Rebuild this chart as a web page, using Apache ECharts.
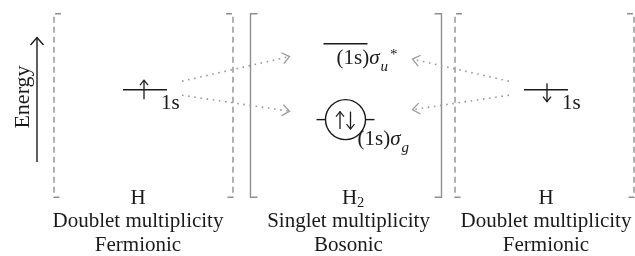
<!DOCTYPE html>
<html><head><meta charset="utf-8">
<script src="https://cdn.jsdelivr.net/npm/echarts@6/dist/echarts.min.js"></script>
<style>html,body{margin:0;padding:0;background:#fff}#c{width:635px;height:256px}</style>
</head><body><div id="c"></div>
<script>
// ---- data ----
const columnLabels = ['H', 'H', 'H'];
const columnLabelSub = ['', '2', ''];
const columnMultiplicity = ['Doublet multiplicity', 'Singlet multiplicity', 'Doublet multiplicity'];
const columnStatistics = ['Fermionic', 'Bosonic', 'Fermionic'];
const columnKind = ['atom', 'molecule', 'atom'];

const orbitalColumn = [0, 1, 1, 2];
const orbitalEnergy = [0, 1, -0.65, 0];
const orbitalName = ['1s', '(1s)', '(1s)', '1s'];
const orbitalSymbol = ['', 'σ', 'σ', ''];
const orbitalSub = ['', 'u', 'g', ''];
const orbitalSup = ['', '*', '', ''];
const orbitalElectrons = ['up', '', 'pair', 'down'];

const correlationFrom = [0, 0, 3, 3];
const correlationTo = [1, 2, 1, 2];

const axisName = 'Energy';

// ---- style / layout ----
const FONT = "'Liberation Serif', 'Times New Roman', serif";
const FS = 21;
const INK = '#1a1a1a';
const GRAY = '#8f8f8f';
const DOT = '#9a9a9a';
const TEXT_NUDGE = [-7, 3, 0];

const mctx = document.createElement('canvas').getContext('2d');
function tw(t, size, style) { mctx.font = (style || 'normal') + ' ' + size + 'px ' + FONT; return mctx.measureText(t).width; }
function txt(x, y, text, size, o) {
  o = o || {};
  return { type: 'text', x: x, y: y, silent: true, style: {
    text: text, fill: INK, fontSize: size, fontFamily: FONT, fontStyle: o.style || 'normal',
    align: o.align || 'left', verticalAlign: 'middle' } };
}
function seg(x1, y1, x2, y2, st) {
  return { type: 'line', silent: true, shape: { x1: x1, y1: y1, x2: x2, y2: y2 }, style: Object.assign({ stroke: INK, lineWidth: 1.4 }, st || {}) };
}
function poly(pts, st) {
  return { type: 'polyline', silent: true, shape: { points: pts }, style: Object.assign({ stroke: INK, lineWidth: 1.4, fill: null }, st || {}) };
}
function electron(x, yTail, yTip) {
  const d = yTip < yTail ? 1 : -1;
  return [seg(x, yTail, x, yTip, { lineWidth: 1.3 }),
          poly([[x - 4, yTip + d * 5], [x, yTip], [x + 4, yTip + d * 5]], { lineWidth: 1.2 })];
}

function renderColumn(params, api) {
  const i = params.dataIndex;
  const c = api.coord([api.value(0), 0]);
  const cx = c[0], cy = c[1];
  const mol = columnKind[i] === 'molecule';
  const L = cx + (mol ? -95 : -91), R = cx + (mol ? 96 : 88);
  const top = cy - 76, bot = cy + 107.5, t = 7;
  const bs = { stroke: GRAY, lineWidth: 1.4, lineDash: mol ? null : [6, 4] };
  const ch = [
    poly([[L + t, top], [L, top], [L, bot], [L + t, bot]], bs),
    poly([[R - t, top], [R, top], [R, bot], [R - t, bot]], bs)
  ];
  const tx = cx + TEXT_NUDGE[i];
  if (columnLabelSub[i]) {
    const w = tw(columnLabels[i], FS);
    ch.push(txt(tx + 1 - w / 2, cy + 108.5, columnLabels[i], FS));
    ch.push(txt(tx + 1 + w / 2, cy + 113.5, columnLabelSub[i], 14.5));
  } else {
    ch.push(txt(tx, cy + 108.5, columnLabels[i], FS, { align: 'center' }));
  }
  ch.push(txt(tx, cy + 131.5, columnMultiplicity[i], FS, { align: 'center' }));
  ch.push(txt(tx, cy + 155.5, columnStatistics[i], FS, { align: 'center' }));
  return { type: 'group', children: ch };
}

function renderOrbital(params, api) {
  const i = params.dataIndex;
  const p = api.coord([api.value(0), api.value(1)]);
  const x = p[0], y = p[1];
  const ch = [];
  const kind = orbitalElectrons[i];
  let lx, ly;
  if (kind === 'pair') {
    const r = 20;
    ch.push({ type: 'circle', silent: true, shape: { cx: x, cy: y, r: r }, style: { fill: null, stroke: INK, lineWidth: 1.4 } });
    ch.push(seg(x - 29, y, x - r, y), seg(x + r, y, x + 29, y));
    ch.push.apply(ch, electron(x - 5.5, y + 9.5, y - 8));
    ch.push.apply(ch, electron(x + 5, y - 8, y + 9.5));
    lx = x + 12; ly = y + 20;
  } else {
    ch.push(seg(x - 22, y, x + 22, y));
    if (kind === 'up') ch.push.apply(ch, electron(x - 1, y + 9.5, y - 9.5));
    if (kind === 'down') ch.push.apply(ch, electron(x + 1, y - 6.5, y + 12));
    if (orbitalSymbol[i]) { lx = x - 9; ly = y + 15; } else { lx = x + 16; ly = y + 14; }
  }
  ch.push(txt(lx, ly, orbitalName[i], FS));
  let cur = lx + tw(orbitalName[i], FS);
  if (orbitalSymbol[i]) {
    ch.push(txt(cur, ly, orbitalSymbol[i], FS, { style: 'italic' }));
    cur += tw(orbitalSymbol[i], FS, 'italic') + 1;
  }
  if (orbitalSub[i]) {
    ch.push(txt(cur, ly + 8, orbitalSub[i], 15, { style: 'italic' }));
    cur += tw(orbitalSub[i], 15, 'italic') + 2;
  }
  if (orbitalSup[i]) {
    ch.push(txt(cur, ly - 4, orbitalSup[i], 15));
  }
  return { type: 'group', children: ch };
}

function renderCorrelation(params, api) {
  const a = api.coord([api.value(0), api.value(1)]);
  const b = api.coord([api.value(2), api.value(3)]);
  const dx = b[0] - a[0], dy = b[1] - a[1];
  const adx = Math.abs(dx);
  const t0 = 37 / adx;
  const t1 = 1 - (dx > 0 ? 56 : 67) / adx;
  const s = [a[0] + dx * t0, a[1] + dy * t0];
  const e = [a[0] + dx * t1, a[1] + dy * t1];
  const len = Math.hypot(dx, dy);
  const ux = -dx / len, uy = -dy / len;
  const th = 38 * Math.PI / 180, L = 9;
  const arm = function (sg) {
    const c = Math.cos(sg * th), sn = Math.sin(sg * th);
    return [e[0] + L * (ux * c - uy * sn), e[1] + L * (ux * sn + uy * c)];
  };
  return { type: 'group', children: [
    seg(s[0], s[1], e[0], e[1], { stroke: DOT, lineWidth: 1.6, lineDash: [1.6, 4.6] }),
    poly([arm(1), e, arm(-1)], { stroke: DOT, lineWidth: 1.3 })
  ] };
}

const chart = echarts.init(document.getElementById('c'), null, { renderer: 'canvas', width: 635, height: 256 });
chart.setOption({
  animation: false,
  backgroundColor: '#ffffff',
  grid: { left: 145, right: 89, top: 43.7, height: 92 },
  xAxis: { type: 'value', min: 0, max: 2, show: false },
  yAxis: { type: 'value', min: -1, max: 1, show: false },
  graphic: [
    { type: 'line', silent: true, shape: { x1: 37, y1: 162, x2: 37, y2: 37.5 }, style: { stroke: INK, lineWidth: 1.4 } },
    { type: 'polyline', silent: true, shape: { points: [[30.5, 45], [37, 37.5], [43.5, 45]] }, style: { stroke: INK, lineWidth: 1.4, fill: null } },
    { type: 'text', silent: true, x: 23, y: 97, rotation: Math.PI / 2,
      style: { text: axisName, fill: INK, fontSize: 22, fontFamily: FONT, align: 'center', verticalAlign: 'middle' } }
  ],
  series: [
    { type: 'custom', name: 'columns', clip: false, silent: true,
      data: columnLabels.map(function (l, i) { return [i, 0]; }), renderItem: renderColumn },
    { type: 'custom', name: 'correlations', clip: false, silent: true,
      data: correlationFrom.map(function (f, k) { const t = correlationTo[k]; return [orbitalColumn[f], orbitalEnergy[f], orbitalColumn[t], orbitalEnergy[t]]; }),
      renderItem: renderCorrelation },
    { type: 'custom', name: 'orbitals', clip: false, silent: true,
      data: orbitalColumn.map(function (c, i) { return [c, orbitalEnergy[i]]; }), renderItem: renderOrbital }
  ]
});
</script>
</body></html>
